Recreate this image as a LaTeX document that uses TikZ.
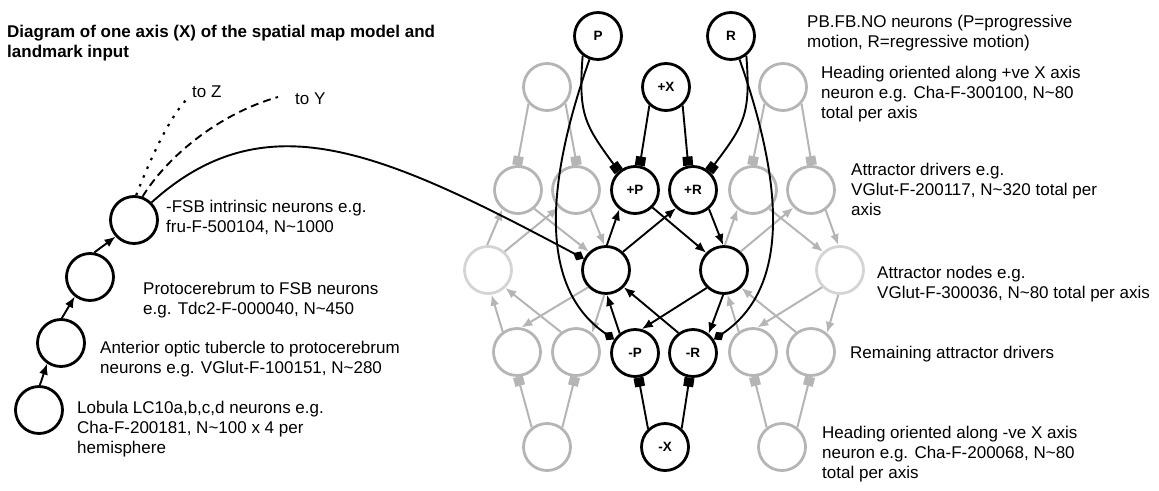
\documentclass[tikz,border=0pt]{standalone}
\usepackage{fontspec}
\setmainfont{Liberation Sans}
\usetikzlibrary{arrows.meta}
\definecolor{gmid}{HTML}{B5B5B5}
\definecolor{glight}{HTML}{D4D4D4}
\begin{document}
\begin{tikzpicture}[x=1pt,y=-1pt,
  neu/.style={circle, draw=black, line width=2.8pt, minimum size=47pt, inner sep=0pt, font=\fontsize{13.5}{14}\selectfont\bfseries},
  gneu/.style={neu, draw=gmid},
  lneu/.style={neu, draw=glight},
  bl/.style={line width=1.9pt, draw=black},
  gl/.style={line width=2pt, draw=gmid},
  tri/.style={-{Latex[length=11pt,width=9pt]}},
  sq/.style={-{Square[length=9pt,width=10pt]}},
  dia/.style={-{Diamond[length=12pt,width=10pt]}},
  lbl/.style={anchor=base west, inner sep=0pt, align=left, font=\fontsize{17}{20}\selectfont}]
\useasboundingbox (0,0) rectangle (1159,490);

% gray nodes
\node[gneu] (hL) at (547,87) {};
\node[gneu] (d1L) at (518,190) {};
\node[gneu] (d2L) at (576,190) {};
\node[lneu] (aLL) at (488,270) {};
\node[gneu] (r1L) at (517,352) {};
\node[gneu] (r2L) at (576,352) {};
\node[gneu] (hLm) at (547,447) {};
\node[gneu] (hR) at (783,87) {};
\node[gneu] (d1R) at (753,190) {};
\node[gneu] (d2R) at (811,190) {};
\node[lneu] (aLR) at (840,270) {};
\node[gneu] (r1R) at (753,352) {};
\node[gneu] (r2R) at (811,352) {};
\node[gneu] (hRm) at (782,447) {};

% black nodes
\node[neu] (P) at (598,36) {P};
\node[neu] (R) at (731,36) {R};
\node[neu] (px) at (666,87) {+X};
\node[neu] (pp) at (635,190) {+P};
\node[neu] (pr) at (693,190) {+R};
\node[neu] (aL) at (606,270) {};
\node[neu] (aR) at (724,270) {};
\node[neu] (mp) at (635,353) {-P};
\node[neu] (mr) at (693,353) {-R};
\node[neu] (mx) at (665,447) {-X};

\node[neu] (n1) at (39,410) {};
\node[neu] (n2) at (61,343) {};
\node[neu] (n3) at (90,277) {};
\node[neu] (n4) at (134,220) {};

% gray edges left
\draw[gl,sq] (hL.222) -- (d1L.92);
\draw[gl,sq] (hL.318) -- (d2L.88);
\draw[gl,tri] (aLL.92) -- (d1L.231);
\draw[gl,tri] (aLL.48) -- (d2L.225);
\draw[gl,tri] (d1L.-49) -- (aL.133);
\draw[gl,tri] (d2L.-54) -- (aL.94);
\draw[gl,tri] (r1L.125) -- (aLL.278);
\draw[gl,tri] (r2L.127) -- (aLL.314);
\draw[gl,tri] (aL.224) -- (r1L.80);
\draw[gl,tri] (aL.266) -- (r2L.50);
\draw[gl,sq] (hLm.128) -- (r1L.272);
\draw[gl,sq] (hLm.52) -- (r2L.268);
% gray edges right
\draw[gl,sq] (hR.222) -- (d1R.92);
\draw[gl,sq] (hR.318) -- (d2R.88);
\draw[gl,tri] (aR.88) -- (d1R.231);
\draw[gl,tri] (aR.48) -- (d2R.225);
\draw[gl,tri] (d1R.-49) -- (aLR.133);
\draw[gl,tri] (d2R.-54) -- (aLR.94);
\draw[gl,tri] (r1R.125) -- (aR.278);
\draw[gl,tri] (r2R.127) -- (aR.314);
\draw[gl,tri] (aLR.224) -- (r1R.80);
\draw[gl,tri] (aLR.266) -- (r2R.50);
\draw[gl,sq] (hRm.128) -- (r1R.272);
\draw[gl,sq] (hRm.52) -- (r2R.268);

% black edges
\draw[bl,sq] (px.228) -- (pp.79);
\draw[bl,sq] (px.312) -- (pr.101);
\draw[bl,sq] (P.232) .. controls (578,115) and (585,125) .. (pp.131);
\draw[bl,sq] (R.308) .. controls (751,115) and (744,125) .. (pr.49);
\draw[bl,dia] (P.250) .. controls (540,200) and (545,292) .. (mp.147);
\draw[bl,dia] (R.290) .. controls (789,200) and (784,292) .. (mr.33);
\draw[bl,tri] (aL.88) -- (pp.231);
\draw[bl,tri] (aL.47) -- (pr.227);
\draw[bl,tri] (pp.-45) -- (aR.136);
\draw[bl,tri] (pr.-50) -- (aR.92);
\draw[bl,tri] (aR.226) -- (mp.74);
\draw[bl,tri] (aR.268) -- (mr.51);
\draw[bl,tri] (mr.126) -- (aL.316);
\draw[bl,tri] (mp.128) -- (aL.272);
\draw[bl,sq] (mx.133) -- (mp.278);
\draw[bl,sq] (mx.48) -- (mr.262);

% left chain
\draw[bl,tri] (n1.88) -- (n2.236);
\draw[bl,tri] (n2.88) -- (n3.232);
\draw[bl,tri] (n3.80) -- (n4.222);
\draw[bl,dia] (n4.45) .. controls (265,100) and (380,150) .. (aL.153);
\coordinate (toZ) at (186,100);
\coordinate (toY) at (278,97);
\draw[line width=2.2pt, dash pattern=on 2.5pt off 7pt] (n4.85) .. controls (150,160) and (168,120) .. (toZ);
\draw[bl, dash pattern=on 8pt off 5pt] (n4.70) .. controls (165,160) and (215,115) .. (toY);

% labels (anchor = baseline of last line)
\node[lbl, font=\fontsize{17}{20}\selectfont\bfseries] (title) at (7,57) {Diagram of one axis (X) of the spatial map model and\\landmark input};
\node[lbl] (tz) at (192,97.5) {to Z};
\node[lbl] (ty) at (295,104) {to Y};
\node[lbl] (t4) at (166,232) {-FSB intrinsic neurons e.g.\\fru-F-500104, N\textasciitilde1000};
\node[lbl] (t3) at (143,314) {Protocerebrum to FSB neurons\\e.g. Tdc2-F-000040, N\textasciitilde450};
\node[lbl] (t2) at (100,373) {Anterior optic tubercle to protocerebrum\\neurons e.g. VGlut-F-100151, N\textasciitilde280};
\node[lbl] (t1) at (77,453) {Lobula LC10a,b,c,d neurons e.g.\\Cha-F-200181, N\textasciitilde100 x 4 per\\hemisphere};
\node[lbl] (r1) at (807,47) {PB.FB.NO neurons (P=progressive\\motion, R=regressive motion)};
\node[lbl] (r2) at (821,118) {Heading oriented along +ve X axis\\neuron e.g. Cha-F-300100, N\textasciitilde80\\total per axis};
\node[lbl] (r3) at (851,215) {Attractor drivers e.g.\\VGlut-F-200117, N\textasciitilde320 total per\\axis};
\node[lbl] (r4) at (877,298) {Attractor nodes e.g.\\VGlut-F-300036, N\textasciitilde80 total per axis};
\node[lbl] (r5) at (850,358) {Remaining attractor drivers};
\node[lbl] (r6) at (822,478) {Heading oriented along -ve X axis\\neuron e.g. Cha-F-200068, N\textasciitilde80\\total per axis};
\end{tikzpicture}
\end{document}
